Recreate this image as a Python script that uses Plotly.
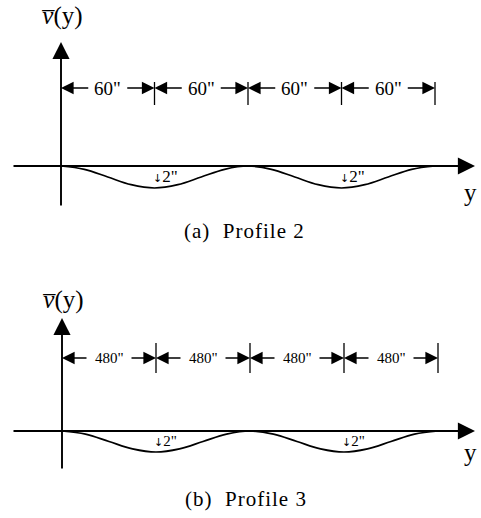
import plotly.graph_objects as go

W, H = 481, 518

# ---------------- data ----------------
spans_a = [60, 60, 60, 60]
spans_b = [480, 480, 480, 480]
span_label_a = '60"'
span_label_b = '480"'
depth_label = '2"'
prof_a_y = [0, 15, 30, 45, 60, 75, 90, 105, 120, 135, 150, 165, 180, 195, 210, 225, 240]
prof_b_y = [0, 120, 240, 360, 480, 600, 720, 840, 960, 1080, 1200, 1320, 1440, 1560, 1680, 1800, 1920]
prof_v = [0, -0.3, -1.0, -1.7, -2.0, -1.7, -1.0, -0.3, 0, -0.3, -1.0, -1.7, -2.0, -1.7, -1.0, -0.3, 0]
dips_a = [60, 180]
dips_b = [480, 1440]
captions = ["(a)  Profile 2", "(b)  Profile 3"]
v_label = "<i>v\u0305</i>(y)"
h_label = "y"

# ---------------- geometry (pixels) ----------------
FONT = "Liberation Serif"
panels = [
    dict(spans=spans_a, lab=span_label_a, prof_y=prof_a_y, dips=dips_a, ox=61, oy=166, xend=435,
         vs=11.0, dim=88, tick=(82, 105), vax=(42, 207), hax=(12, 475), rows=(0, 250),
         gap=18, lsize=19, dsize=17, vlab=(62, 16), hlab=(470, 192), cap=(244, 231)),
    dict(spans=spans_b, lab=span_label_b, prof_y=prof_b_y, dips=dips_b, ox=62, oy=431, xend=438,
         vs=10.5, dim=358, tick=(343, 373), vax=(318, 470), hax=(12, 475), rows=(250, 518),
         gap=21, lsize=15, dsize=15, vlab=(63, 300), hlab=(470, 452), cap=(246, 499)),
]

fig = go.Figure()
annotations = []
layout = {}

for i, p in enumerate(panels):
    xa = "x" if i == 0 else "x2"
    ya = "y" if i == 0 else "y2"
    total = sum(p["spans"])
    sx = (p["xend"] - p["ox"]) / total
    X = lambda px, p=p, sx=sx: (px - p["ox"]) / sx
    V = lambda py, p=p: (p["oy"] - py) / p["vs"]

    r0, r1 = p["rows"]
    key = "" if i == 0 else "2"
    layout["xaxis" + key] = dict(range=[X(0), X(W)], domain=[0, 1], visible=False, fixedrange=True,
                                 anchor=ya)
    layout["yaxis" + key] = dict(range=[V(r1), V(r0)], domain=[1 - r1 / H, 1 - r0 / H],
                                 visible=False, fixedrange=True, anchor=xa)

    # profile curve
    fig.add_trace(go.Scatter(x=p["prof_y"], y=prof_v, mode="lines", xaxis=xa, yaxis=ya,
                             line=dict(color="black", width=1.7, shape="spline", smoothing=1.0),
                             hoverinfo="skip", showlegend=False))

    # axes with arrows
    annotations.append(dict(x=X(p["hax"][1]), y=0, ax=X(p["hax"][0]), ay=0, xref=xa, yref=ya,
                            axref=xa, ayref=ya, text="", showarrow=True, arrowhead=2,
                            arrowsize=1.8, arrowwidth=1.9, arrowcolor="black", standoff=0))
    annotations.append(dict(x=0, y=V(p["vax"][0]), ax=0, ay=V(p["vax"][1]), xref=xa, yref=ya,
                            axref=xa, ayref=ya, text="", showarrow=True, arrowhead=2,
                            arrowsize=1.8, arrowwidth=1.9, arrowcolor="black", standoff=0))

    # dimension lines
    bounds = [0]
    for s in p["spans"]:
        bounds.append(bounds[-1] + s)
    dimv = V(p["dim"])
    g = p["gap"] / sx
    for k in range(len(p["spans"])):
        s, e = bounds[k], bounds[k + 1]
        m = (s + e) / 2
        for tgt, src in ((s, m - g), (e, m + g)):
            annotations.append(dict(x=tgt, y=dimv, ax=src, ay=dimv, xref=xa, yref=ya,
                                    axref=xa, ayref=ya, text="", showarrow=True, arrowhead=2,
                                    arrowsize=1.8, arrowwidth=1.4, arrowcolor="black", standoff=0))
        annotations.append(dict(x=m, y=dimv, xref=xa, yref=ya, text=p["lab"], showarrow=False,
                                font=dict(family=FONT, size=p["lsize"], color="black"),
                                xanchor="center", yanchor="middle"))
    for b in bounds[1:]:
        fig.add_trace(go.Scatter(x=[b, b], y=[V(p["tick"][0]), V(p["tick"][1])], mode="lines",
                                 xaxis=xa, yaxis=ya, line=dict(color="black", width=1.3),
                                 hoverinfo="skip", showlegend=False))

    # depth labels
    for d in p["dips"]:
        annotations.append(dict(x=d - 4 / sx, y=V(p["oy"] + 10), xref=xa, yref=ya,
                                text="<span style='font-family:DejaVu Sans;font-size:11px'>\u2193</span>"
                                     + depth_label,
                                showarrow=False,
                                font=dict(family=FONT, size=p["dsize"], color="black"),
                                xanchor="left", yanchor="middle"))

    # axis labels
    annotations.append(dict(x=X(p["vlab"][0]), y=V(p["vlab"][1]), xref=xa, yref=ya, text=v_label,
                            showarrow=False, font=dict(family=FONT, size=25, color="black"),
                            xanchor="center", yanchor="middle"))
    annotations.append(dict(x=X(p["hlab"][0]), y=V(p["hlab"][1]), xref=xa, yref=ya, text=h_label,
                            showarrow=False, font=dict(family=FONT, size=25, color="black"),
                            xanchor="center", yanchor="middle"))
    # caption
    annotations.append(dict(x=p["cap"][0] / W, y=1 - p["cap"][1] / H, xref="paper", yref="paper",
                            text="<span style='letter-spacing:1px'>" + captions[i] + "</span>",
                            showarrow=False,
                            font=dict(family=FONT, size=21, color="black"),
                            xanchor="center", yanchor="middle"))

fig.update_layout(width=W, height=H, margin=dict(l=0, r=0, t=0, b=0), paper_bgcolor="white",
                  plot_bgcolor="white", annotations=annotations, showlegend=False, **layout)

fig.write_html("out.html", config={"displayModeBar": False, "staticPlot": True},
               post_script="document.body.style.margin='0px';")
